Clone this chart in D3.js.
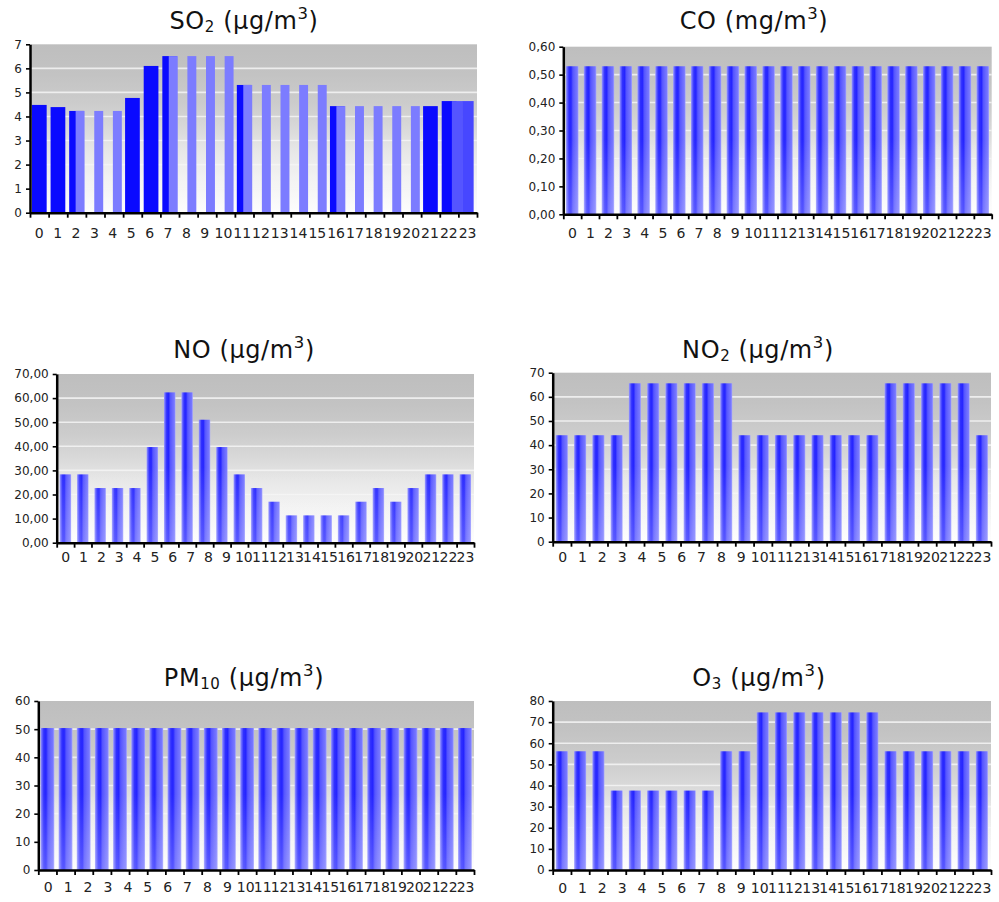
<!DOCTYPE html>
<html><head><meta charset="utf-8">
<script src="https://cdn.jsdelivr.net/npm/d3@7"></script>
<style>body{margin:0;background:#fff}svg{display:block}</style>
</head><body>
<svg id="c" width="999" height="902"></svg>
<script>
// ---------- DATA ----------
const hours = ["0","1","2","3","4","5","6","7","8","9","10","11","12","13","14","15","16","17","18","19","20","21","22","23"];

// SO2 (µg/m3) — three overlapping series as drawn in the original
const so2Dark  = [4.48,4.39,4.23,null,null,4.77,6.10,6.51,null,null,null,5.31,null,null,null,null,4.43,null,null,null,null,4.43,4.64,null];
const so2Light = [null,null,4.23,4.23,4.23,null,null,6.51,6.51,6.51,6.51,5.31,5.31,5.31,5.31,5.31,4.43,4.43,4.43,4.43,4.43,null,null,null];
const so2Last  = [null,null,null,null,null,null,null,null,null,null,null,null,null,null,null,null,null,null,null,null,null,null,null,4.64];
const so2Mid   = [null,null,null,null,null,null,null,null,null,null,null,null,null,null,null,null,null,null,null,null,null,null,4.64,null];
const so2Ticks = [0,1,2,3,4,5,6,7];

const coValues = [0.53,0.53,0.53,0.53,0.53,0.53,0.53,0.53,0.53,0.53,0.53,0.53,0.53,0.53,0.53,0.53,0.53,0.53,0.53,0.53,0.53,0.53,0.53,0.53];
const coTicks = [0,0.1,0.2,0.3,0.4,0.5,0.6];

const noValues = [28.35,28.35,22.68,22.68,22.68,39.69,62.37,62.37,51.03,39.69,28.35,22.68,17.01,11.34,11.34,11.34,11.34,17.01,22.68,17.01,22.68,28.35,28.35,28.35];
const noTicks = [0,10,20,30,40,50,60,70];

const no2Values = [44.1,44.1,44.1,44.1,65.6,65.6,65.6,65.6,65.6,65.6,44.1,44.1,44.1,44.1,44.1,44.1,44.1,44.1,65.6,65.6,65.6,65.6,65.6,44.1];
const no2Ticks = [0,10,20,30,40,50,60,70];

const pm10Values = [50.4,50.4,50.4,50.4,50.4,50.4,50.4,50.4,50.4,50.4,50.4,50.4,50.4,50.4,50.4,50.4,50.4,50.4,50.4,50.4,50.4,50.4,50.4,50.4];
const pm10Ticks = [0,10,20,30,40,50,60];

const o3Values = [56.2,56.2,56.2,37.6,37.6,37.6,37.6,37.6,37.6,56.2,56.2,74.6,74.6,74.6,74.6,74.6,74.6,74.6,56.2,56.2,56.2,56.2,56.2,56.2];
const o3Ticks = [0,10,20,30,40,50,60,70,80];

// ---------- RENDER ----------
const svg = d3.select("#c");
const FONT = "'DejaVu Sans', Verdana, sans-serif";
const comma = d3.formatLocale({decimal:",",thousands:".",grouping:[3],currency:["",""]}).format(".2f");
const intFmt = d3.format("d");

const defs = svg.append("defs");
const bg = defs.append("linearGradient").attr("id","bg").attr("x1",0).attr("y1",0).attr("x2",0).attr("y2",1);
[[0,"#bebebe"],[0.18,"#c3c3c3"],[0.35,"#cccccc"],[0.5,"#d9d9d9"],[0.62,"#e6e6e6"],[0.78,"#f1f1f1"],[1,"#fdfdfd"]]
  .forEach(([o,c])=>bg.append("stop").attr("offset",o).attr("stop-color",c));
const bar = defs.append("linearGradient").attr("id","bar").attr("x1",0).attr("y1",0).attr("x2",1).attr("y2",0);
[[0,"#a0a0ff"],[0.1,"#6a6aff"],[0.24,"#3030ff"],[0.4,"#2424ff"],[0.55,"#5555ff"],[0.75,"#6a6aff"],[0.9,"#7777ff"],[1,"#a6a6ff"]]
  .forEach(([o,c])=>bar.append("stop").attr("offset",o).attr("stop-color",c));
const fade = defs.append("linearGradient").attr("id","fade").attr("x1",0).attr("y1",0).attr("x2",0).attr("y2",1);
[[0,0],[0.55,0],[1,0.22]].forEach(([o,a])=>fade.append("stop").attr("offset",o).attr("stop-color","#fff").attr("stop-opacity",a));

const charts = [
  {title:["SO","2","µg/m","3"], cx:244, ty:28.5, x0:30, x1:477, y0:44.3, y1:212.7, ticks:so2Ticks, fmt:intFmt, cell:18.4, lab:25.6, so2:true},
  {title:["CO","","mg/m","3"], cx:754, ty:28.5, x0:563.3, x1:991.7, y0:46.7, y1:214.3, ticks:coTicks, fmt:comma, cell:18.1, lab:23.5, values:coValues, bw:0.70},
  {title:["NO","","µg/m","3"], cx:244, ty:357.5, x0:56.7, x1:474, y0:374, y1:542.7, ticks:noTicks, fmt:comma, cell:17.86, lab:19.5, values:noValues, bw:0.66},
  {title:["NO","2","µg/m","3"], cx:758, ty:357.5, x0:552.7, x1:991, y0:372.7, y1:541.7, ticks:no2Ticks, fmt:intFmt, cell:19.85, lab:20, values:no2Values, bw:0.66},
  {title:["PM","10","µg/m","3"], cx:244, ty:685.5, x0:38.3, x1:474, y0:701, y1:870, ticks:pm10Ticks, fmt:intFmt, cell:19.9, lab:21.5, values:pm10Values, bw:0.76},
  {title:["O","3","µg/m","3"], cx:759, ty:685.5, x0:552.7, x1:991, y0:701, y1:870, ticks:o3Ticks, fmt:intFmt, cell:19.85, lab:22.5, values:o3Values, bw:0.66}
];

charts.forEach(c => {
  const g = svg.append("g");
  const x = d3.scaleBand().domain(hours).range([c.x0, c.x1]).padding(0);
  const step = x.step();
  const y = d3.scaleLinear().domain([0, d3.max(c.ticks)]).range([c.y1, c.y0]);

  // title
  const t = g.append("text").attr("x", c.cx).attr("y", c.ty).attr("text-anchor","middle")
    .attr("font-family", FONT).attr("font-size", 24).attr("letter-spacing", 0.6).attr("fill","#111");
  t.append("tspan").text(c.title[0]);
  if (c.title[1]) t.append("tspan").attr("font-size",15).attr("dy",3).text(c.title[1]);
  t.append("tspan").attr("font-size",24).attr("dy", c.title[1] ? -3 : 0).text(" (" + c.title[2]);
  t.append("tspan").attr("font-size",16.5).attr("dy",-10).text(c.title[3]);
  t.append("tspan").attr("font-size",24).attr("dy",10).text(")");

  // background + grid
  g.append("rect").attr("x", c.x0).attr("y", c.y0).attr("width", c.x1 - c.x0).attr("height", c.y1 - c.y0).attr("fill","url(#bg)");
  g.selectAll("line.grid").data(c.ticks.slice(1, -1)).join("line").attr("class","grid")
    .attr("x1", c.x0).attr("x2", c.x1).attr("y1", d => y(d)).attr("y2", d => y(d))
    .attr("stroke","#f4f4f4").attr("stroke-width",1.6).attr("stroke-opacity",0.85);

  if (c.so2) {
    const dark = hours.map((h,i)=>({h, v:so2Dark[i]})).filter(d=>d.v!=null);
    const light = hours.map((h,i)=>({h, v:so2Light[i]})).filter(d=>d.v!=null);
    const last = hours.map((h,i)=>({h, v:so2Last[i]})).filter(d=>d.v!=null);
    const mid = hours.map((h,i)=>({h, v:so2Mid[i]})).filter(d=>d.v!=null);
    g.selectAll("rect.dark").data(dark).join("rect").attr("class","dark")
      .attr("x", d => x(d.h) + step*0.105).attr("width", step*0.79)
      .attr("y", d => y(d.v)).attr("height", d => y(0) - y(d.v)).attr("fill","#0a0aff");
    g.selectAll("rect.last").data(last).join("rect").attr("class","last")
      .attr("x", d => x(d.h) + step*0.2).attr("width", step*0.62)
      .attr("y", d => y(d.v)).attr("height", d => y(0) - y(d.v)).attr("fill","#4747ff");
    g.selectAll("rect.light").data(light).join("rect").attr("class","light")
      .attr("x", d => x(d.h) + step*0.45).attr("width", step*0.48)
      .attr("y", d => y(d.v)).attr("height", d => y(0) - y(d.v)).attr("fill","#7c7cff");
    g.selectAll("rect.mid").data(mid).join("rect").attr("class","mid")
      .attr("x", d => x(d.h) + step*0.65).attr("width", step*0.57)
      .attr("y", d => y(d.v)).attr("height", d => y(0) - y(d.v)).attr("fill","#5555ff");
  } else {
    const data = hours.map((h,i)=>({h, v:c.values[i]}));
    g.selectAll("rect.bar").data(data).join("rect").attr("class","bar")
      .attr("x", d => x(d.h) + step*(1-c.bw)/2).attr("width", step*c.bw)
      .attr("y", d => y(d.v)).attr("height", d => y(0) - y(d.v)).attr("fill","url(#bar)");
    g.append("rect").attr("x", c.x0).attr("y", c.y0).attr("width", c.x1 - c.x0).attr("height", c.y1 - c.y0)
      .attr("fill","url(#fade)");
  }

  // y axis
  const ya = g.append("g").attr("transform", `translate(${c.x0},0)`)
    .call(d3.axisLeft(y).tickValues(c.ticks).tickFormat(c.fmt).tickSize(4).tickSizeOuter(0).tickPadding(4));
  ya.select(".domain").attr("stroke","#000").attr("stroke-width",2.5);
  ya.selectAll(".tick line").attr("stroke","#000").attr("stroke-width",1.6);
  ya.selectAll(".tick text").attr("font-family", FONT).attr("font-size",12).attr("fill","#222");

  // x axis (band boundaries)
  const xb = d3.scaleLinear().domain([0, hours.length]).range([c.x0, c.x1]);
  const xa = g.append("g").attr("transform", `translate(0,${c.y1})`)
    .call(d3.axisBottom(xb).tickValues(d3.range(hours.length + 1)).tickFormat("").tickSize(5).tickSizeOuter(0));
  xa.select(".domain").attr("stroke","#000").attr("stroke-width",2.5);
  xa.selectAll(".tick line").attr("stroke","#000").attr("stroke-width",1.8);

  // x labels laid out in cells
  const singles = hours.filter(h => h.length === 1).length;
  const dbl = (c.x1 - c.x0 - singles * c.cell) / (hours.length - singles);
  let acc = c.x0;
  const pos = hours.map(h => { const w = h.length === 1 ? c.cell : dbl; const p = acc + w/2; acc += w; return p; });
  g.selectAll("text.xl").data(hours).join("text").attr("class","xl")
    .attr("x", (d,i) => pos[i]).attr("y", c.y1 + c.lab).attr("text-anchor","middle")
    .attr("font-family", FONT).attr("font-size",14).attr("fill","#222").text(d => d);
});
</script>
</body></html>
